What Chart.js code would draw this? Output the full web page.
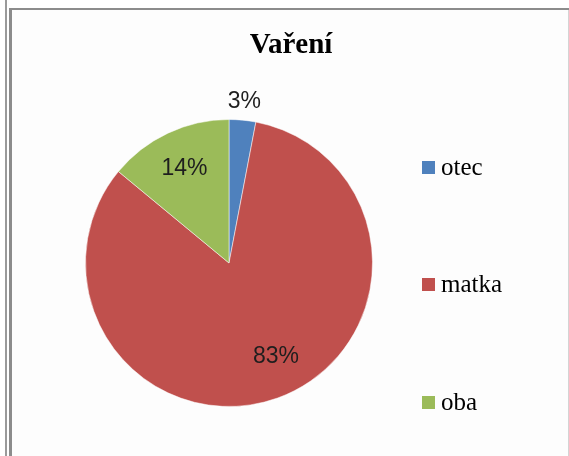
<!DOCTYPE html>
<html>
<head>
<meta charset="utf-8">
<script src="https://cdn.jsdelivr.net/npm/chart.js@4.4.1/dist/chart.umd.min.js"></script>
<style>
  html, body { margin: 0; padding: 0; background: #ffffff; }
  #wrap { position: relative; width: 569px; height: 456px; }
</style>
</head>
<body>
<div id="wrap"><canvas id="vareni_chart" width="569" height="456"></canvas></div>
<script>
const chartTitle = 'Vaření';
const categories = ['otec', 'matka', 'oba'];
const shares = [3, 83, 14];
const sliceColors = ['#4F81BD', '#C0504D', '#9BBB59'];

// frame, background, title and legend are painted by hand
const framePlugin = {
  id: 'frame',
  beforeDraw(chart) {
    const ctx = chart.ctx;
    ctx.save();
    ctx.fillStyle = '#fdfdfd';
    ctx.fillRect(11, 10, 557, 446);
    ctx.fillStyle = '#9a9a9a';
    ctx.fillRect(5, 0, 2, 456);
    ctx.fillStyle = '#8c8c8c';
    ctx.fillRect(9, 8, 3, 448);
    ctx.fillRect(9, 8, 560, 2);
    ctx.fillStyle = '#d4d4d4';
    ctx.fillRect(568, 10, 1, 446);
    ctx.restore();
  },
  afterDraw(chart) {
    const ctx = chart.ctx;
    ctx.save();
    ctx.fillStyle = '#000';
    ctx.textAlign = 'center';
    ctx.textBaseline = 'middle';
    ctx.font = 'bold 29px "Liberation Serif"';
    ctx.fillText(chartTitle, 291, 46);

    const legendY = [168, 285, 403];
    ctx.textAlign = 'left';
    ctx.font = '25px "Liberation Serif"';
    categories.forEach((name, i) => {
      ctx.fillStyle = sliceColors[i];
      ctx.fillRect(422, legendY[i] - 7, 13, 13);
      ctx.fillStyle = '#000';
      ctx.fillText(name, 441, legendY[i]);
    });
    ctx.restore();
  }
};

const labelPlugin = {
  id: 'sliceLabels',
  afterDatasetsDraw(chart) {
    const ctx = chart.ctx;
    const meta = chart.getDatasetMeta(0);
    ctx.save();
    ctx.fillStyle = '#1e1e1e';
    ctx.font = '23px "Liberation Sans"';
    ctx.textAlign = 'center';
    ctx.textBaseline = 'middle';
    meta.data.forEach((arc, i) => {
      const p = arc.getProps(['x', 'y', 'startAngle', 'endAngle', 'outerRadius'], true);
      let mid = (p.startAngle + p.endAngle) / 2;
      // big slice label sits a little nearer the vertical, like Excel's best fit
      if (shares[i] > 50) mid -= 0.12;
      const d = shares[i] < 5 ? p.outerRadius * 1.13 : p.outerRadius * 0.73;
      ctx.fillText(shares[i] + '%', p.x + Math.cos(mid) * d, p.y + Math.sin(mid) * d);
    });
    ctx.restore();
  }
};

new Chart(document.getElementById('vareni_chart'), {
  type: 'pie',
  data: {
    labels: categories,
    datasets: [{
      data: shares,
      backgroundColor: sliceColors,
      borderColor: 'rgba(255,255,255,0.5)',
      borderWidth: 1
    }]
  },
  options: {
    responsive: false,
    animation: false,
    layout: { padding: { left: 85, right: 196, top: 119, bottom: 49 } },
    plugins: {
      legend: { display: false },
      title: { display: false },
      tooltip: { enabled: false }
    }
  },
  plugins: [framePlugin, labelPlugin]
});
</script>
</body>
</html>
